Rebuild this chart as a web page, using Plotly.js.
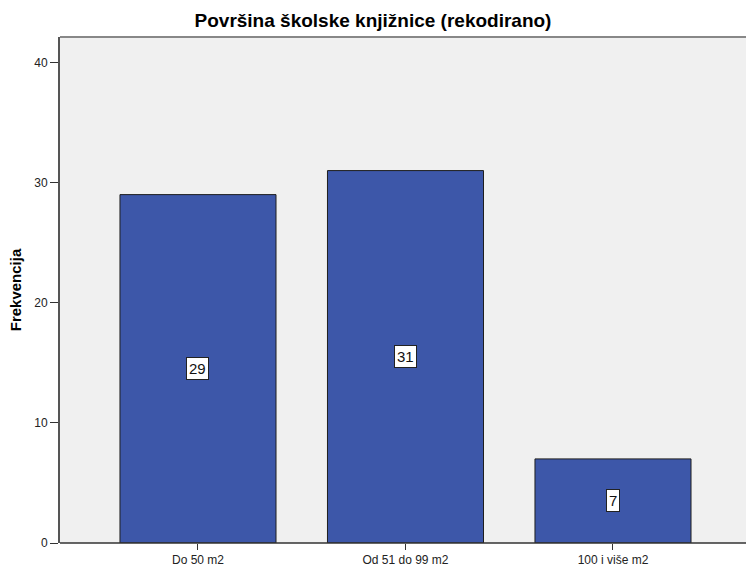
<!DOCTYPE html>
<html>
<head>
<meta charset="utf-8">
<script src="https://cdn.plot.ly/plotly-3.0.1.min.js"></script>
<style>html,body{margin:0;padding:0;background:#fff;}#chart{width:746px;height:567px;}</style>
</head>
<body>
<div id="chart"></div>
<script>
const categories = ["Do 50 m2", "Od 51 do 99 m2", "100 i više m2"];
const counts = [29, 31, 7];
const yTicks = [0, 10, 20, 30, 40];
const chartTitle = "Površina školske knjižnice (rekodirano)";
const yTitle = "Frekvencija";

const barColor = "#3D57A9";
const fontFam = "Arial, Liberation Sans, sans-serif";

const trace = {
  type: "bar",
  x: categories,
  y: counts,
  marker: { color: barColor, line: { color: "#1e1e1e", width: 1 } },
  hoverinfo: "x+y"
};

const annotations = categories.map((c, i) => ({
  x: c,
  y: counts[i] / 2,
  xref: "x",
  yref: "y",
  text: String(counts[i]),
  showarrow: false,
  bgcolor: "#ffffff",
  bordercolor: "#222222",
  borderwidth: 1,
  borderpad: 2,
  font: { family: fontFam, size: 15, color: "#111" }
}));

const layout = {
  width: 746,
  height: 567,
  margin: { l: 60, r: 0, t: 37, b: 24 },
  paper_bgcolor: "#ffffff",
  plot_bgcolor: "#F0F0F0",
  showlegend: false,
  bargap: 0.248,
  title: {
    text: chartTitle,
    font: { family: fontFam, size: 19, color: "#000", weight: "bold" },
    x: 0.5,
    xref: "container",
    y: 1,
    yref: "container",
    yanchor: "top",
    pad: { t: 14 }
  },
  xaxis: {
    type: "category",
    range: [-0.665, 2.641],
    showgrid: false,
    zeroline: false,
    showline: false,
    ticks: "outside",
    ticklen: 6,
    tickwidth: 1,
    tickcolor: "#333",
    tickfont: { family: fontFam, size: 12, color: "#222" },
    fixedrange: true
  },
  yaxis: {
    range: [0, 42.12],
    tickvals: yTicks,
    ticktext: yTicks.map(String),
    showgrid: false,
    zeroline: false,
    showline: true,
    linecolor: "#555",
    linewidth: 2,
    ticks: "outside",
    ticklen: 8,
    tickwidth: 1,
    tickcolor: "#333",
    tickfont: { family: fontFam, size: 12, color: "#222" },
    title: {
      text: yTitle,
      font: { family: fontFam, size: 15, color: "#000", weight: "bold" },
      standoff: 9
    },
    fixedrange: true
  },
  shapes: [
    { type: "line", xref: "paper", yref: "paper", x0: 0, x1: 1, y0: 1, y1: 1, line: { color: "#888", width: 2 } },
    { type: "line", xref: "paper", yref: "paper", x0: 0, x1: 1, y0: 0, y1: 0, line: { color: "#333", width: 1.5 } }
  ],
  annotations: annotations
};

Plotly.newPlot("chart", [trace], layout, { displayModeBar: false, staticPlot: true });
</script>
</body>
</html>
